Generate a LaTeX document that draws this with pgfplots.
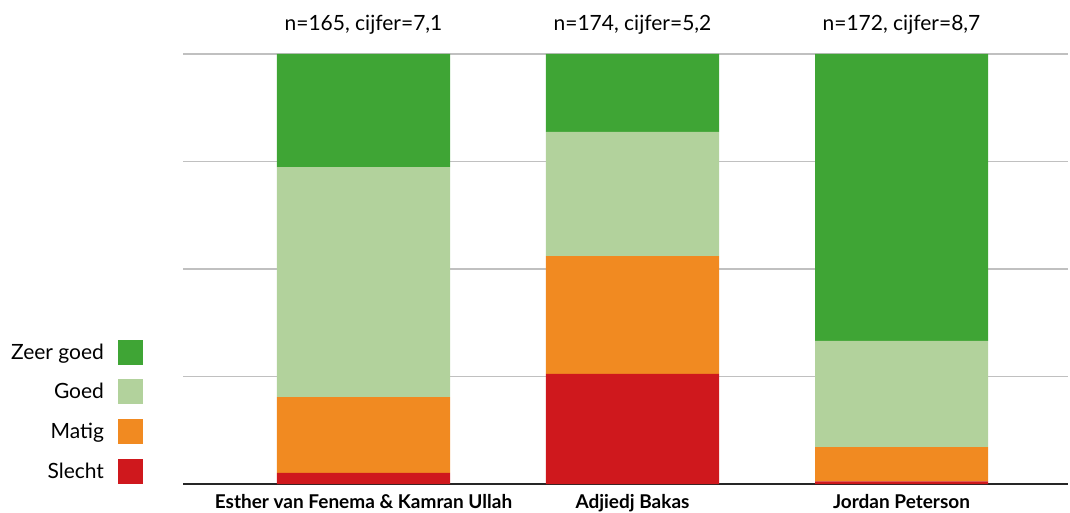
\documentclass[border=0pt]{standalone}
\usepackage{fontspec}
\setmainfont{Lato}
\usepackage{pgfplots}
\pgfplotsset{compat=1.18}
\definecolor{zeergoed}{HTML}{3FA535}
\definecolor{goed}{HTML}{B2D29C}
\definecolor{matig}{HTML}{F18A21}
\definecolor{slecht}{HTML}{CF181D}
\definecolor{gridc}{HTML}{C0C0C0}
\begin{document}
\begin{tikzpicture}
\path[use as bounding box] (0,0) rectangle (1070pt,512pt);
\begin{axis}[
  at={(183pt,28pt)}, anchor=south west,
  scale only axis, width=885pt, height=430pt,
  ybar stacked, bar width=173pt,
  xmin=-0.671, xmax=2.619, ymin=0, ymax=100,
  axis line style={draw=none},
  xtick={0,1,2},
  xticklabels={Esther van Fenema \& Kamran Ullah, Adjiedj Bakas, Jordan Peterson},
  xticklabel style={font=\fontsize{19}{22}\selectfont\bfseries, yshift=-7pt},
  major tick length=0pt,
  ytick={25,50,75,100}, yticklabels={},
  ymajorgrids, grid style={gridc, line width=1.5pt},
  extra y ticks={0}, extra y tick labels={},
  extra y tick style={grid style={black!85, line width=1.6pt}},
  clip=false,
  legend plot pos=right,
  reverse legend,
  legend cell align=right,
  legend image code/.code={\fill[#1] (0pt,-12.5pt) rectangle (25pt,12.5pt);},
  legend style={at={(rel axis cs:-0.045,0)}, anchor=south east, draw=none, fill=none,
    font=\fontsize{21}{24}\selectfont, inner sep=0pt, row sep=14.7pt,
    column sep=14pt,
    nodes={inner sep=0pt, outer sep=0pt}},
  legend columns=1,
]
\addplot[fill=slecht, draw=none] coordinates {(0,2.6) (1,25.6) (2,0.6)};
\addlegendentry{Slecht}
\addplot[fill=matig, draw=none] coordinates {(0,17.6) (1,27.4) (2,8.0)};
\addlegendentry{Matig}
\addplot[fill=goed, draw=none] coordinates {(0,53.5) (1,28.9) (2,24.7)};
\addlegendentry{Goed}
\addplot[fill=zeergoed, draw=none] coordinates {(0,26.3) (1,18.1) (2,66.7)};
\addlegendentry{Zeer goed}
\node[font=\fontsize{21}{24}\selectfont] at (axis cs:0,100) [yshift=29pt] {n=165, cijfer=7,1};
\node[font=\fontsize{21}{24}\selectfont] at (axis cs:1,100) [yshift=29pt] {n=174, cijfer=5,2};
\node[font=\fontsize{21}{24}\selectfont] at (axis cs:2,100) [yshift=29pt] {n=172, cijfer=8,7};
\end{axis}
\end{tikzpicture}
\end{document}
